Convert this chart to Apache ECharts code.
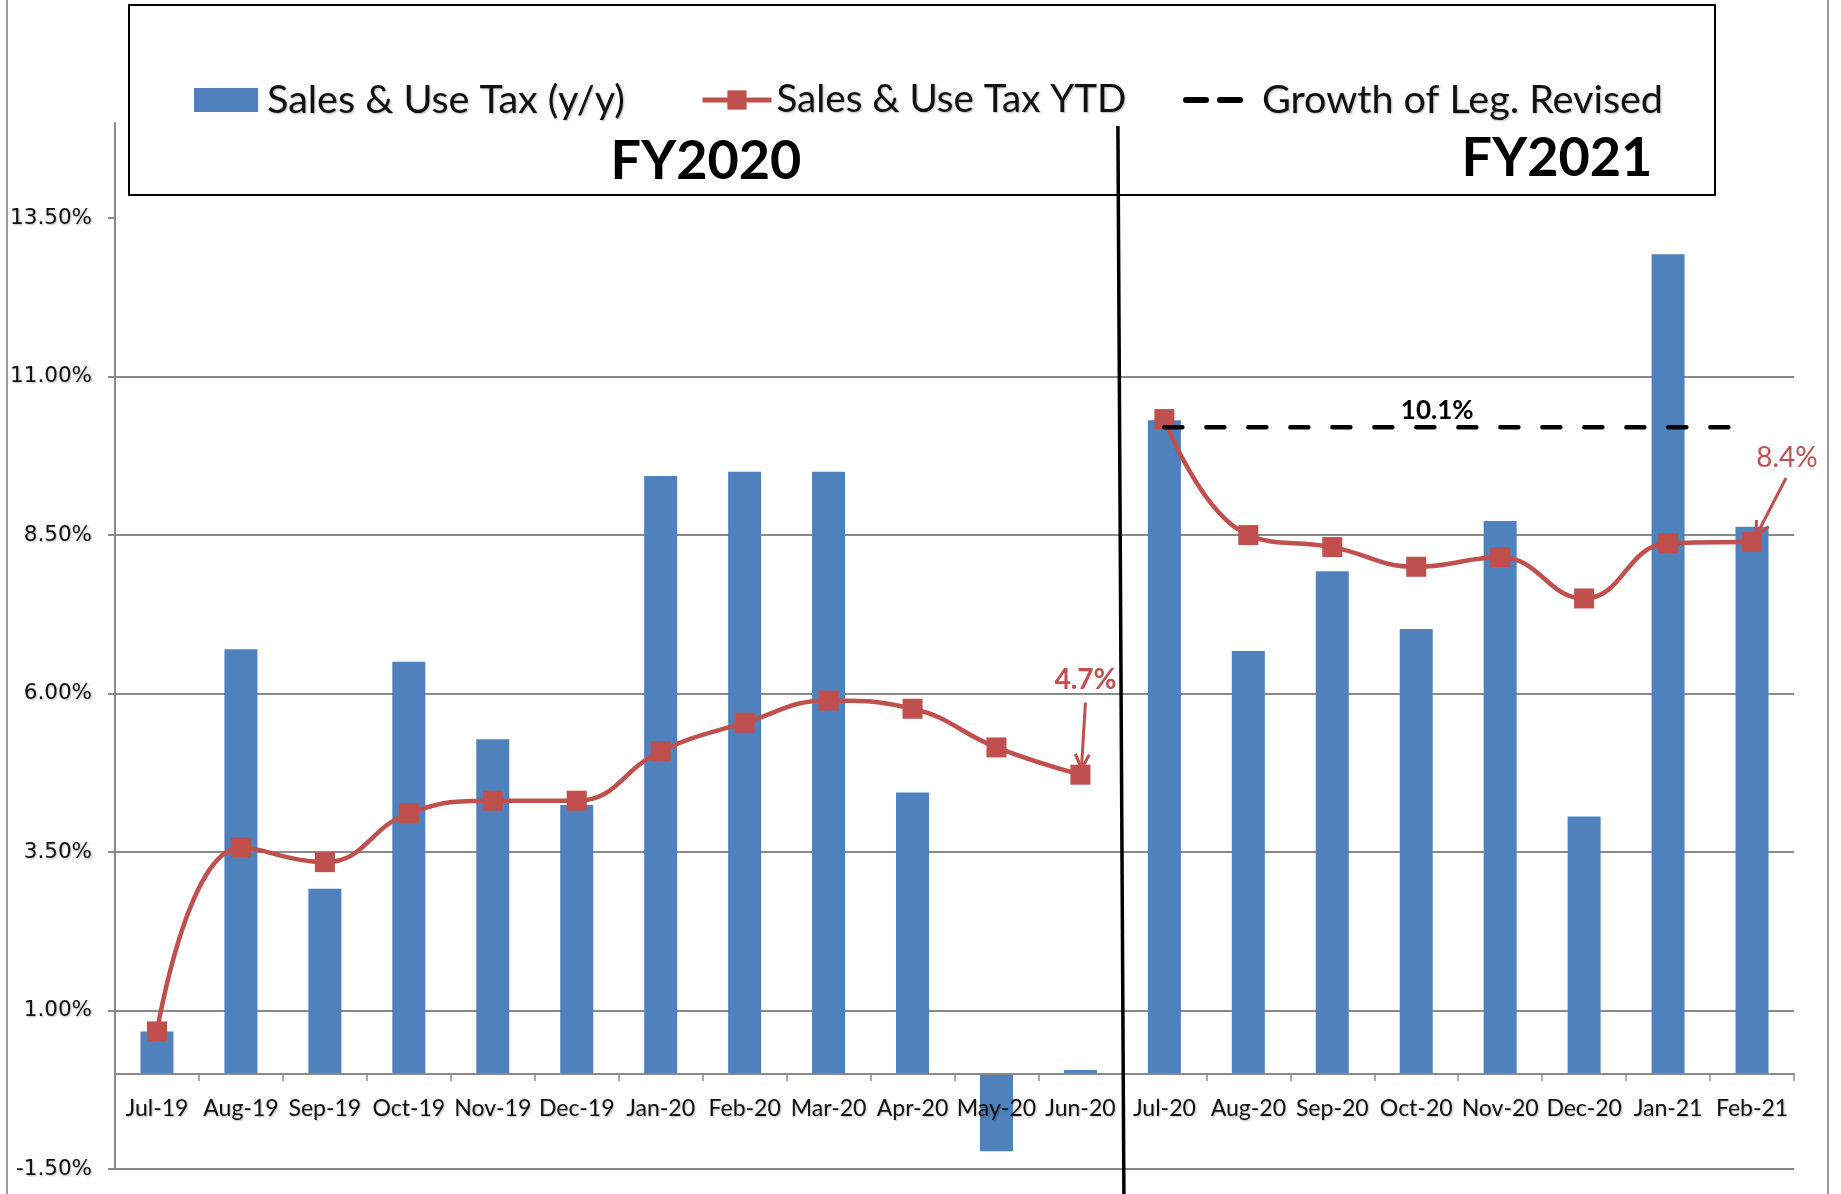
<!DOCTYPE html>
<html>
<head>
<meta charset="utf-8">
<script src="https://cdn.jsdelivr.net/npm/echarts@6/dist/echarts.min.js"></script>
<style>
html,body{margin:0;padding:0;background:#fff;}
#chart{width:1841px;height:1194px;}
</style>
</head>
<body>
<div id="chart"></div>
<script>
const months = ['Jul-19','Aug-19','Sep-19','Oct-19','Nov-19','Dec-19','Jan-20','Feb-20','Mar-20','Apr-20','May-20','Jun-20','Jul-20','Aug-20','Sep-20','Oct-20','Nov-20','Dec-20','Jan-21','Feb-21'];
const salesYoY = [0.67, 6.70, 2.92, 6.50, 5.28, 4.24, 9.43, 9.50, 9.50, 4.44, -1.22, 0.06, 10.31, 6.67, 7.93, 7.02, 8.72, 4.06, 12.93, 8.63];
const salesYTD = [0.67, 3.57, 3.34, 4.11, 4.31, 4.31, 5.09, 5.54, 5.89, 5.76, 5.15, 4.72, 10.33, 8.50, 8.31, 8.00, 8.15, 7.50, 8.37, 8.39];
const legRevised = [null,null,null,null,null,null,null,null,null,null,null,null,10.2,10.2,10.2,10.2,10.2,10.2,10.2,10.2];
const yMin = -1.5, yMax = 15, yStep = 2.5;
const yTicks = [-1.5, 1, 3.5, 6, 8.5, 11, 13.5];
const seriesNames = ['Sales & Use Tax (y/y)', 'Sales & Use Tax YTD', 'Growth of Leg. Revised'];
const fyLabels = ['FY2020', 'FY2021'];
const noteLabels = {jun20: '4.7%', feb21: '8.4%', leg: '10.1%'};
const fy2021Start = 12;

const BLUE = '#4F81BD', RED = '#C0504D', GRID = '#8a8a8a';
const CAL = 'Lato, "Liberation Sans", sans-serif';
const SHADOW = {textShadowColor: 'rgba(0,0,0,0.28)', textShadowBlur: 2, textShadowOffsetX: 1, textShadowOffsetY: 1};

const ytdFY20 = salesYTD.map((v, i) => i < fy2021Start ? v : null);
const ytdFY21 = salesYTD.map((v, i) => i >= fy2021Start ? v : null);

const W = 1841, H = 1194;
const gridL = 115, gridR = 47, gridT = 123, gridB = 25;
const gridH = H - gridT - gridB;
const zeroOffset = -(0 - yMin) / (yMax - yMin) * gridH;

const chart = echarts.init(document.getElementById('chart'), null, {renderer: 'canvas'});

function legendText(size, padLeft) {
  return Object.assign({fontFamily: CAL, fontSize: size, color: '#111', lineHeight: 40, padding: [0,0,0,padLeft]}, SHADOW);
}
const legendCommon = {top: 80, itemHeight: 24, selectedMode: false, padding: 0};

const option = {
  animation: false,
  backgroundColor: '#fff',
  grid: {left: gridL, right: gridR, top: gridT, bottom: gridB, containLabel: false, outerBoundsMode: 'none'},
  legend: [
    Object.assign({}, legendCommon, {data: [{name: seriesNames[0], icon: 'rect'}], left: 194, itemWidth: 64,
      textStyle: legendText(39.5, 4)}),
    Object.assign({}, legendCommon, {data: [seriesNames[1]], left: 700, itemWidth: 69,
      lineStyle: {width: 5}, textStyle: legendText(38.5, 0)}),
    Object.assign({}, legendCommon, {data: [{name: seriesNames[2],
      icon: 'path://M0,0L0.01,0L0.01,0.01Z M64,24L63.99,24L63.99,23.99Z M3,9L23,9A3,3 0 0 1 23,15L3,15A3,3 0 0 1 3,9Z M37,9L57,9A3,3 0 0 1 57,15L37,15A3,3 0 0 1 37,9Z'}],
      left: 1183, itemWidth: 64, itemStyle: {color: '#000'}, textStyle: legendText(39.5, 10)})
  ],
  xAxis: [{
    type: 'category', data: months, z: 10,
    axisLine: {onZero: true, lineStyle: {color: GRID, width: 2}},
    axisTick: {show: true, length: 7, alignWithLabel: false, interval: 0, lineStyle: {color: GRID, width: 1.5}},
    axisLabel: {show: false},
    splitLine: {show: false}
  }, {
    type: 'category', data: months, z: 10, position: 'bottom', offset: zeroOffset,
    axisLine: {show: false, onZero: false},
    axisTick: {show: false},
    axisLabel: Object.assign({interval: 0, margin: 23, fontFamily: CAL, fontSize: 23, color: '#111'}, SHADOW),
    splitLine: {show: false}
  }],
  yAxis: {
    type: 'value', min: yMin, max: yMax, interval: yStep,
    axisLine: {show: true, lineStyle: {color: GRID, width: 2}},
    axisTick: {show: true, length: 7, customValues: yTicks, lineStyle: {color: GRID, width: 2}},
    axisLabel: Object.assign({margin: 23, fontFamily: '"DejaVu Sans", Verdana, sans-serif', fontSize: 21.5, color: '#111',
      customValues: yTicks,
      formatter: v => v.toFixed(2) + '%'}, SHADOW),
    splitLine: {show: true, showMaxLine: false, lineStyle: {color: GRID, width: 2}}
  },
  series: [
    {name: seriesNames[0], type: 'bar', data: salesYoY, barWidth: 33, itemStyle: {color: BLUE}, z: 2},
    {name: seriesNames[1], type: 'line', data: ytdFY20, smooth: 0.45, symbol: 'rect', symbolSize: 20,
      lineStyle: {color: RED, width: 4.5}, itemStyle: {color: RED}, z: 4},
    {name: seriesNames[1], type: 'line', data: ytdFY21, smooth: 0.45, symbol: 'rect', symbolSize: 20,
      lineStyle: {color: RED, width: 4.5}, itemStyle: {color: RED}, z: 4},
    {name: seriesNames[2], type: 'line', data: legRevised, symbol: 'none', connectNulls: false,
      lineStyle: {color: '#000', width: 4.5, type: [18, 24], cap: 'round'}, itemStyle: {color: '#000'}, z: 5}
  ]
};
chart.setOption(option);

function px(cat, v) { return chart.convertToPixel({xAxisIndex: 0, yAxisIndex: 0}, [cat, v]); }
function arrow(x1, y1, x2, y2, color, w) {
  const ang = Math.atan2(y2 - y1, x2 - x1), L = 16, spread = 0.45;
  return [
    {type: 'line', z: 50, shape: {x1, y1, x2, y2}, style: {stroke: color, lineWidth: w}},
    {type: 'polyline', z: 50, shape: {points: [
      [x2 - L * Math.cos(ang - spread), y2 - L * Math.sin(ang - spread)],
      [x2, y2],
      [x2 - L * Math.cos(ang + spread), y2 - L * Math.sin(ang + spread)]]},
      style: {stroke: color, lineWidth: w, fill: null}}
  ];
}

const pJun = px('Jun-20', salesYTD[11]);
const pJul = px('Jul-20', salesYTD[12]);
const pFeb = px('Feb-21', salesYTD[19]);
const pOct = px('Oct-20', legRevised[15]);
const divX = (pJun[0] + pJul[0]) / 2;

const graphics = [
  {type: 'line', z: 0, shape: {x1: 7, y1: 0, x2: 7, y2: H}, style: {stroke: '#9a9a9a', lineWidth: 2}},
  {type: 'line', z: 0, shape: {x1: 1828, y1: 0, x2: 1828, y2: H}, style: {stroke: '#9a9a9a', lineWidth: 2}},
  {type: 'rect', z: -1, shape: {x: 129, y: 5, width: 1586, height: 190}, style: {fill: '#fff', stroke: '#000', lineWidth: 2}},
  {type: 'text', z: 20, style: {text: fyLabels[0], x: 706, y: 162, align: 'center', verticalAlign: 'middle',
    font: 'bold 54px Lato, "Liberation Sans", sans-serif', fill: '#000'}},
  {type: 'text', z: 20, style: {text: fyLabels[1], x: 1557, y: 159, align: 'center', verticalAlign: 'middle',
    font: 'bold 54px Lato, "Liberation Sans", sans-serif', fill: '#000'}},
  {type: 'line', z: 60, shape: {x1: divX - 4.5, y1: 126, x2: divX + 1.5, y2: H}, style: {stroke: '#000', lineWidth: 3.5}},
  {type: 'text', z: 60, style: {text: noteLabels.leg, x: pOct[0] + 21, y: pOct[1] - 17, align: 'center', verticalAlign: 'middle',
    font: 'bold 26px Lato, "Liberation Sans", sans-serif', fill: '#000'}},
  {type: 'text', z: 60, style: {text: noteLabels.jun20, x: pJun[0] + 5, y: pJun[1] - 95, align: 'center', verticalAlign: 'middle',
    font: 'bold 28px Lato, "Liberation Sans", sans-serif', fill: RED}},
  {type: 'text', z: 60, style: {text: noteLabels.feb21, x: pFeb[0] + 35, y: pFeb[1] - 84, align: 'center', verticalAlign: 'middle',
    font: '28px Lato, "Liberation Sans", sans-serif', fill: RED}}
].concat(arrow(pJun[0] + 5, pJun[1] - 72, pJun[0] + 1, pJun[1] - 6, RED, 3))
 .concat(arrow(pFeb[0] + 34, pFeb[1] - 64, pFeb[0] + 4, pFeb[1] - 6, RED, 3));

chart.setOption({graphic: {elements: graphics}});
</script>
</body>
</html>
